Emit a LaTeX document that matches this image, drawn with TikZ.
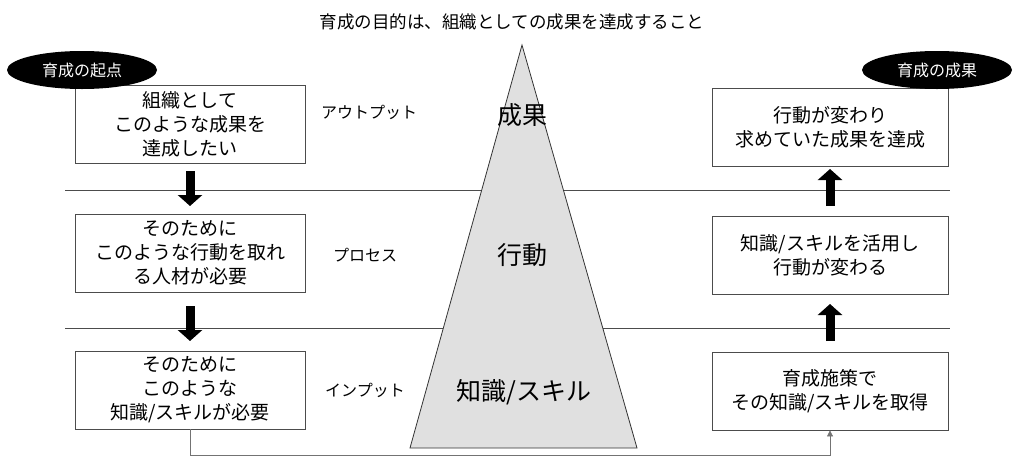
\documentclass[tikz,border=0pt]{standalone}
\usepackage{fontspec}
\setmainfont{Noto Sans CJK JP}
\usetikzlibrary{arrows.meta,shapes.geometric}
\begin{document}
\begin{tikzpicture}[x=1pt,y=-1pt,
  box/.style={draw=black!70,line width=0.8pt,minimum width=230pt,minimum height=78pt,align=center,font=\fontsize{19}{24}\selectfont,inner sep=0pt},
  oval/.style={ellipse,fill=black,text=white,minimum width=150pt,minimum height=38pt,font=\fontsize{16}{18}\selectfont,inner sep=0pt},
  lbl/.style={font=\fontsize{16}{18}\selectfont},
  big/.style={font=\fontsize{25}{30}\selectfont},
  fat/.style={-{Triangle[length=11pt,width=24pt]},line width=9pt,black},
  sep/.style={draw=black!70,line width=0.8pt}]
\useasboundingbox (0,0) rectangle (1024,461);
\node[font=\fontsize{17.5}{20}\selectfont] (title) at (512,22) {育成の目的は、組織としての成果を達成すること};
\draw[sep] (65,190) -- (950,190);
\draw[sep] (65,328) -- (950,328);
\draw[fill=black!12,draw=black!80,line width=0.8pt] (522,45) -- (637,448) -- (410,448) -- cycle;
\node[big] (t1) at (522,115) {成果};
\node[big] (t2) at (522,255) {行動};
\node[big] (t3) at (524,392) {知識/スキル};
\node[box,fill=white] (l1) at (190,124) {組織として\\このような成果を\\達成したい};
\node[box,fill=white] (l2) at (190,253) {そのために\\このような行動を取れ\\る人材が必要};
\node[box,fill=white] (l3) at (190,390) {そのために\\このような\\知識/スキルが必要};
\node[oval] (o1) at (82,70) {育成の起点};
\node[box,fill=white,minimum width=236pt] (r1) at (830,127) {行動が変わり\\求めていた成果を達成};
\node[box,fill=white,minimum width=236pt] (r2) at (830,255) {知識/スキルを活用し\\行動が変わる};
\node[box,fill=white,minimum width=236pt] (r3) at (830,391) {育成施策で\\その知識/スキルを取得};
\node[oval] (o2) at (937,70) {育成の成果};
\node[lbl] (a1) at (369,112) {アウトプット};
\node[lbl] (a2) at (365,255) {プロセス};
\node[lbl] (a3) at (365,390) {インプット};
\coordinate (d1a) at (190,171); \coordinate (d1b) at (190,206);
\coordinate (d2a) at (190,306); \coordinate (d2b) at (190,341);
\draw[fat] (d1a) -- (d1b);
\draw[fat] (d2a) -- (d2b);
\coordinate (u1a) at (830,206); \coordinate (u1b) at (830,169);
\coordinate (u2a) at (830,341); \coordinate (u2b) at (830,304);
\draw[fat] (u1a) -- (u1b);
\draw[fat] (u2a) -- (u2b);
\draw[black!55,line width=0.7pt,-{Triangle[length=6pt,width=6pt]}] (l3.south) -- ++(0,26) -| (r3.south);
\end{tikzpicture}
\end{document}
